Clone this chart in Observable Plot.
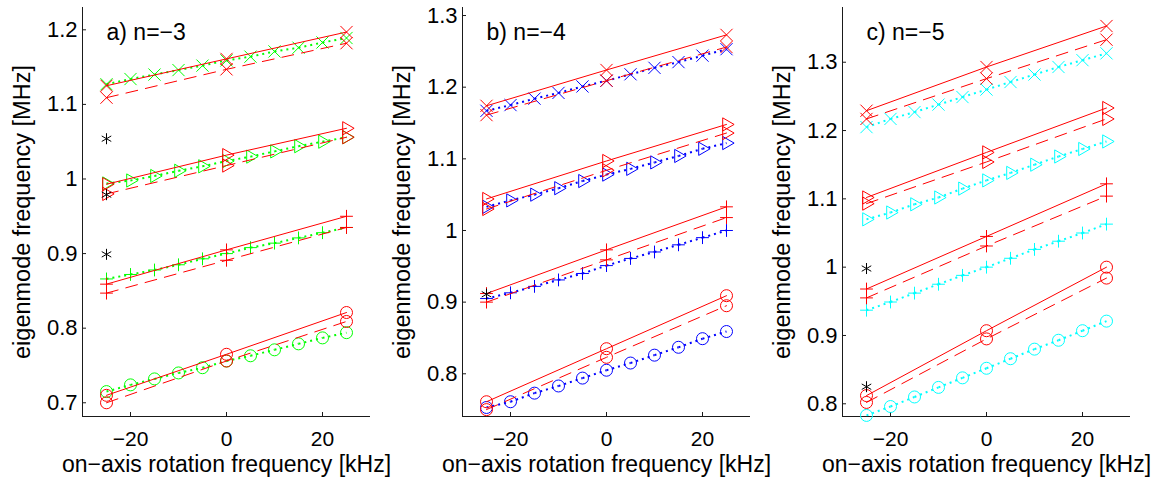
<!DOCTYPE html>
<html>
<head>
<meta charset="utf-8">
<script src="https://cdn.jsdelivr.net/npm/d3@7"></script>
<script src="https://cdn.jsdelivr.net/npm/@observablehq/plot@0.6"></script>
<style>
  html, body { margin: 0; padding: 0; background: #fff; }
  #row { display: flex; width: 1168px; height: 483px; }
  #row svg { display: block; flex: none; overflow: visible; background: transparent; }
</style>
</head>
<body>
<div id="row"></div>
<script>
// ---- shared x values ----
const rot = [-25, -20, -15, -10, -5, 0, 5, 10, 15, 20, 25];   // simulation points [kHz]
const rotEnds = [-25, 0, 25];                                   // model points [kHz]
const xTicks = [-20, 0, 20];
const xDomain = [-30, 30];
const xLabel = "on\u2212axis rotation frequency [kHz]";
const yLabel = "eigenmode frequency [MHz]";

// ---- panel a) n=-3 ----
const aTitle = "a) n=\u22123";
const aYDomain = [0.6816, 1.2299];
const aYTicks = [0.7, 0.8, 0.9, 1.0, 1.1, 1.2];
const aTimesDot = [1.127, 1.134, 1.140, 1.146, 1.152, 1.159, 1.164, 1.171, 1.176, 1.183, 1.189];
const aTimesSolid = [1.125, 1.161, 1.197];
const aTimesDash = [1.109, 1.147, 1.182];
const aTriDot = [0.994, 0.998, 1.004, 1.011, 1.017, 1.024, 1.030, 1.037, 1.044, 1.050, 1.056];
const aTriSolid = [0.993, 1.032, 1.068];
const aTriDash = [0.980, 1.018, 1.056];
const aPlusDot = [0.866, 0.872, 0.878, 0.885, 0.893, 0.900, 0.908, 0.914, 0.921, 0.928, 0.935];
const aPlusSolid = [0.859, 0.905, 0.950];
const aPlusDash = [0.847, 0.891, 0.935];
const aCircDot = [0.715, 0.724, 0.732, 0.740, 0.747, 0.756, 0.763, 0.771, 0.779, 0.787, 0.794];
const aCircSolid = [0.710, 0.765, 0.821];
const aCircDash = [0.700, 0.756, 0.809];
const aStars = [1.054, 0.979, 0.899];

// ---- panel b) n=-4 ----
const bTitle = "b) n=\u22124";
const bYDomain = [0.7404, 1.3112];
const bYTicks = [0.8, 0.9, 1.0, 1.1, 1.2, 1.3];
const bTimesDot = [1.167, 1.175, 1.184, 1.192, 1.201, 1.209, 1.218, 1.227, 1.235, 1.244, 1.253];
const bTimesSolid = [1.174, 1.224, 1.273];
const bTimesDash = [1.161, 1.209, 1.256];
const bTriDot = [1.033, 1.042, 1.050, 1.059, 1.069, 1.078, 1.086, 1.095, 1.104, 1.114, 1.122];
const bTriSolid = [1.044, 1.097, 1.148];
const bTriDash = [1.030, 1.084, 1.136];
const bPlusDot = [0.905, 0.913, 0.922, 0.931, 0.940, 0.951, 0.961, 0.970, 0.980, 0.990, 1.000];
const bPlusSolid = [0.912, 0.973, 1.033];
const bPlusDash = [0.900, 0.959, 1.018];
const bCircDot = [0.753, 0.761, 0.773, 0.783, 0.794, 0.805, 0.815, 0.826, 0.837, 0.849, 0.859];
const bCircSolid = [0.761, 0.835, 0.909];
const bCircDash = [0.750, 0.823, 0.895];
const bStars = [0.911];

// ---- panel c) n=-5 ----
const cTitle = "c) n=\u22125";
const cYDomain = [0.7814, 1.3801];
const cYTicks = [0.8, 0.9, 1.0, 1.1, 1.2, 1.3];
const cTimesDot = [1.205, 1.217, 1.227, 1.238, 1.249, 1.260, 1.271, 1.282, 1.293, 1.303, 1.313];
const cTimesSolid = [1.229, 1.293, 1.353];
const cTimesDash = [1.217, 1.276, 1.333];
const cTriDot = [1.070, 1.080, 1.092, 1.102, 1.115, 1.127, 1.138, 1.150, 1.162, 1.173, 1.184];
const cTriSolid = [1.102, 1.168, 1.233];
const cTriDash = [1.093, 1.154, 1.217];
const cPlusDot = [0.937, 0.949, 0.962, 0.975, 0.988, 1.000, 1.013, 1.026, 1.038, 1.050, 1.063];
const cPlusSolid = [0.968, 1.045, 1.122];
const cPlusDash = [0.955, 1.031, 1.104];
const cCircDot = [0.783, 0.796, 0.810, 0.824, 0.838, 0.852, 0.866, 0.880, 0.893, 0.907, 0.921];
const cCircSolid = [0.812, 0.907, 1.000];
const cCircDash = [0.802, 0.895, 0.984];
const cStars = [0.998, 0.825];

// ---- styling ----
const RED = "#ff0000";
const AXIS = "#1a1a1a";
const FONT = "'Liberation Sans', Arial, Helvetica, sans-serif";
const SYM = {
  times:  {symbol: "times", r: 5.6, rotate: 0},
  tri:    {symbol: "triangle2", r: 6.3, rotate: 90},
  plus:   {symbol: "plus", r: 4.2, rotate: 0},
  circle: {symbol: "circle", r: 6, rotate: 0}
};

function pts(xs, ys) { return xs.map((x, i) => ({x, y: ys[i]})); }
function segs(xs, ys) {
  return ys.slice(1).map((v, i) => ({x1: xs[i], y1: ys[i], x2: xs[i + 1], y2: v}));
}

function modeMarks(kind, simColor, dotVals, solidVals, dashVals) {
  const s = SYM[kind];
  const dotOpts = (color) => ({x: "x", y: "y", symbol: s.symbol, r: s.r, rotate: s.rotate,
                               stroke: color, fill: "none", strokeWidth: 1});
  return [
    // simulation: dotted line with markers
    Plot.link(segs(rot, dotVals), {x1: "x1", y1: "y1", x2: "x2", y2: "y2",
      stroke: simColor, strokeWidth: 2, strokeDasharray: "2,4", strokeLinecap: "butt"}),
    Plot.dot(pts(rot, dotVals), dotOpts(simColor)),
    // model: solid red
    Plot.line(pts(rotEnds, solidVals), {x: "x", y: "y", stroke: RED, strokeWidth: 1}),
    Plot.dot(pts(rotEnds, solidVals), dotOpts(RED)),
    // model: dashed red
    Plot.line(pts(rotEnds, dashVals), {x: "x", y: "y", stroke: RED, strokeWidth: 1, strokeDasharray: "12,8"}),
    Plot.dot(pts(rotEnds, dashVals), dotOpts(RED))
  ];
}

function panel(cfg) {
  const plotW = cfg.width - cfg.marginLeft - cfg.marginRight;
  const marginTop = 7, marginBottom = 67, height = 483;
  const plotH = height - marginTop - marginBottom;
  const fmtX = d => d < 0 ? "\u2212" + (-d) : String(d);
  const fmtY = d => String(+d.toFixed(1));
  return Plot.plot({
    width: cfg.width,
    height,
    marginLeft: cfg.marginLeft,
    marginRight: cfg.marginRight,
    marginTop,
    marginBottom,
    x: {domain: xDomain},
    y: {domain: cfg.yDomain},
    style: {fontFamily: FONT, fontSize: "22px", color: "black", background: "transparent", overflow: "visible"},
    marks: [
      Plot.axisX(xTicks, {tickSize: 0, tickPadding: 15, tickFormat: fmtX, label: null, fontSize: 21}),
      Plot.axisY(cfg.yTicks, {tickSize: 0, tickPadding: 5, tickFormat: fmtY, label: null, fontSize: 22}),
      Plot.ruleX([xDomain[0]], {stroke: AXIS, strokeWidth: 1}),
      Plot.ruleY([cfg.yDomain[0]], {stroke: AXIS, strokeWidth: 1}),
      Plot.tickY(cfg.yTicks, {y: d => d, insetRight: plotW - 4, stroke: AXIS}),
      Plot.tickX(xTicks, {x: d => d, insetTop: plotH - 4, stroke: AXIS}),
      ...modeMarks("circle", cfg.simColor, cfg.circ[0], cfg.circ[1], cfg.circ[2]),
      ...modeMarks("plus", cfg.simColor, cfg.plus[0], cfg.plus[1], cfg.plus[2]),
      ...modeMarks("tri", cfg.simColor, cfg.tri[0], cfg.tri[1], cfg.tri[2]),
      ...modeMarks("times", cfg.simColor, cfg.times[0], cfg.times[1], cfg.times[2]),
      Plot.dot(cfg.stars.map(y => ({x: rotEnds[0], y})), {x: "x", y: "y", symbol: "asterisk", r: 5.2, stroke: "black", strokeWidth: 1}),
      Plot.text([cfg.title], {text: d => d, frameAnchor: "top-left", dx: 24, dy: 16, lineAnchor: "top", textAnchor: "start", fontSize: 23, fill: "black"}),
      Plot.text([yLabel], {text: d => d, frameAnchor: "left", dx: -60, rotate: -90, lineAnchor: "middle", textAnchor: "middle", fontSize: 23.5, fill: "black"}),
      Plot.text([xLabel], {text: d => d, frameAnchor: "bottom", dy: 48.5, lineAnchor: "middle", textAnchor: "middle", fontSize: 23, fill: "black"})
    ]
  });
}

const row = document.getElementById("row");
row.append(panel({
  width: 385, marginLeft: 82, marginRight: 15, yDomain: aYDomain, yTicks: aYTicks,
  simColor: "#00ff00", title: aTitle, stars: aStars,
  times: [aTimesDot, aTimesSolid, aTimesDash], tri: [aTriDot, aTriSolid, aTriDash],
  plus: [aPlusDot, aPlusSolid, aPlusDash], circ: [aCircDot, aCircSolid, aCircDash]
}));
row.append(panel({
  width: 385, marginLeft: 77, marginRight: 20, yDomain: bYDomain, yTicks: bYTicks,
  simColor: "#0000ff", title: bTitle, stars: bStars,
  times: [bTimesDot, bTimesSolid, bTimesDash], tri: [bTriDot, bTriSolid, bTriDash],
  plus: [bPlusDot, bPlusSolid, bPlusDash], circ: [bCircDot, bCircSolid, bCircDash]
}));
row.append(panel({
  width: 398, marginLeft: 72, marginRight: 38, yDomain: cYDomain, yTicks: cYTicks,
  simColor: "#00ffff", title: cTitle, stars: cStars,
  times: [cTimesDot, cTimesSolid, cTimesDash], tri: [cTriDot, cTriSolid, cTriDash],
  plus: [cPlusDot, cPlusSolid, cPlusDash], circ: [cCircDot, cCircSolid, cCircDash]
}));
</script>
</body>
</html>
